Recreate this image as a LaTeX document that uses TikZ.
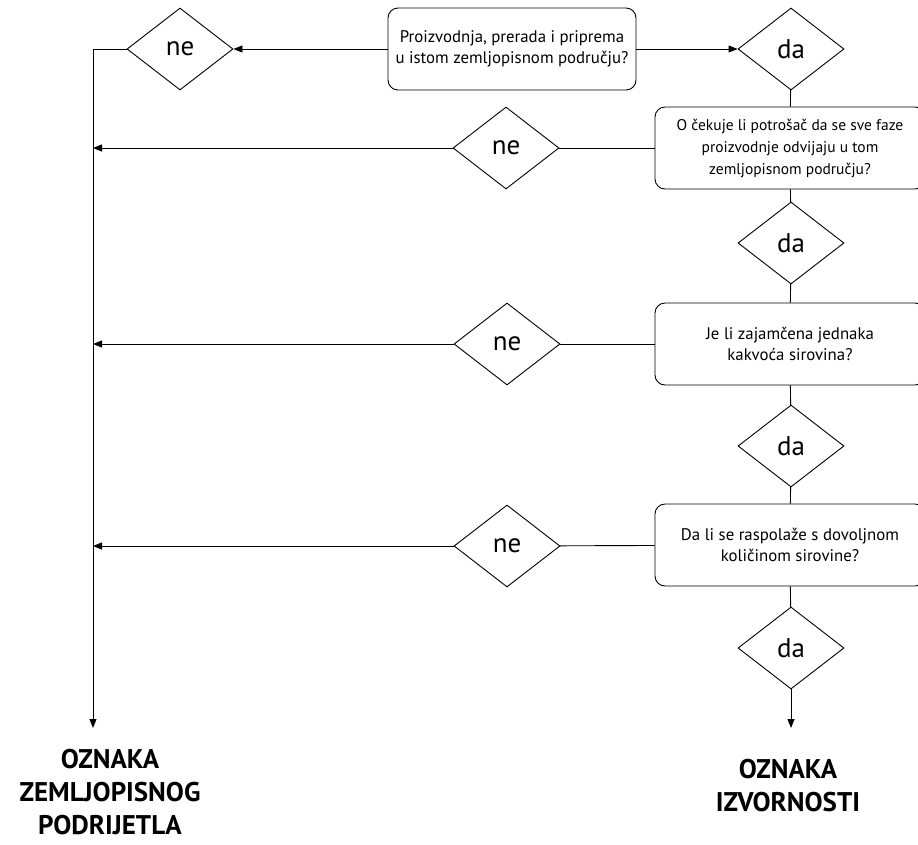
\documentclass[tikz,border=0pt]{standalone}
\usepackage{fontspec}
\setmainfont{PT Sans}
\usetikzlibrary{positioning}
\usetikzlibrary{arrows.meta}
\usetikzlibrary{shapes.geometric}
\tikzset{
        every path/.style={line width=0.9pt},
        question/.style={draw,rounded corners=10pt,align=center,minimum height=82pt,inner sep=0pt,font=\fontsize{16.8}{21}\selectfont},
        choice/.style={draw,diamond,minimum width=106pt,minimum height=82pt,inner sep=0pt,font=\fontsize{27}{30}\selectfont},
        result/.style={align=center,font=\bfseries\fontsize{27}{33}\selectfont},
        flow/.style={-{Triangle[length=9pt,width=7pt]}},
        }

\begin{document}
\begin{tikzpicture}[x=1pt,y=-1pt]

		\useasboundingbox (0,0) rectangle (918,844);

		% questions...................
		\node [question,minimum width=248pt] (q1) at (512,49) {Proizvodnja, prerada i priprema\\u istom zemljopisnom području?};
		\node [question,minimum width=270pt,font=\fontsize{15.5}{22}\selectfont] (q2) at (790,148) {O čekuje li potrošač da se sve faze\\proizvodnje odvijaju u tom\\zemljopisnom području?};
		\node [question,minimum width=270pt] (q3) at (790,344) {Je li zajamčena jednaka\\kakvoća sirovina?};
		\node [question,minimum width=270pt] (q4) at (790,545) {Da li se raspolaže s dovoljnom\\količinom sirovine?};

		% ne answers...................
		\node [choice] (ne1) at (180,49) {ne};
		\node [choice] (ne2) at (506,148) {ne};
		\node [choice] (ne3) at (507,344) {ne};
		\node [choice] (ne4) at (507,546) {ne};

		% da answers...................
		\node [choice] (da1) at (791,49) {da};
		\node [choice] (da2) at (791,243) {da};
		\node [choice] (da3) at (791,446) {da};
		\node [choice] (da4) at (791,648) {da};

		% end points...................
		\coordinate (railtop) at (93,49);
		\coordinate (railend) at (93,728);
		\coordinate (daend) at (791,728);

		% first question.............
		\draw [flow] (q1) -- (ne1);
		\draw [flow] (q1) -- (da1);

		% yes path....................
		\draw (da1) -- (q2);
		\draw (q2) -- (da2);
		\draw (da2) -- (q3);
		\draw (q3) -- (da3);
		\draw (da3) -- (q4);
		\draw (q4) -- (da4);
		\draw [flow] (da4) -- (daend);

		% no path.....................
		\draw (q2) -- (ne2);
		\draw (q3) -- (ne3);
		\draw (q4) -- (ne4);
		\draw [flow] (ne1) -- (railtop) -- (railend);
		\draw [flow] (ne2) -- (ne2 -| railtop);
		\draw [flow] (ne3) -- (ne3 -| railtop);
		\draw [flow] (ne4) -- (ne4 -| railtop);

		% labels......................
		\node [result] (geo) at (110,792) {OZNAKA\\ZEMLJOPISNOG\\PODRIJETLA};
		\node [result] (orig) at (788,786) {OZNAKA\\IZVORNOSTI};

	\end{tikzpicture}
\end{document}
